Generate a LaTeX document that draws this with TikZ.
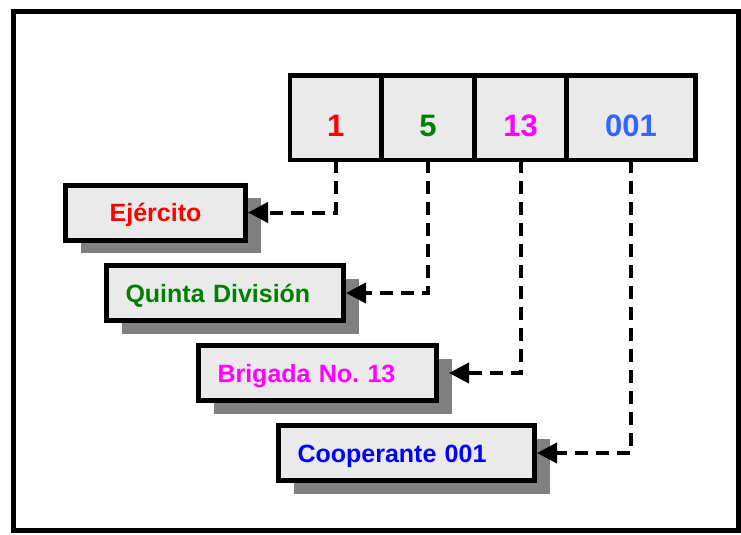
\documentclass[tikz,border=0pt]{standalone}
\usepackage{fontspec}
\setmainfont{Liberation Sans}
\usetikzlibrary{positioning,shadows,arrows.meta}
\definecolor{relleno}{HTML}{EAEAEA}
\definecolor{sombra}{HTML}{808080}
\definecolor{rojo}{HTML}{FF0000}
\definecolor{verde}{HTML}{008000}
\definecolor{rosa}{HTML}{FF00FF}
\definecolor{azulclaro}{HTML}{3366FF}
\definecolor{azul}{HTML}{0000FF}

\begin{document}
\begin{tikzpicture}[x=1pt, y=-1pt,
	celda/.style={draw, line width=4.5pt, fill=relleno, outer sep=0pt, minimum height=84.5pt,
		text height=37pt, text depth=0pt, font=\fontsize{31}{36}\selectfont\bfseries},
	caja/.style={draw, line width=5pt, fill=relleno, minimum height=55pt, inner xsep=19pt,
		align=left, text height=18pt, text depth=0pt, font=\fontsize{25}{30}\selectfont\bfseries,
		drop shadow={shadow xshift=15pt, shadow yshift=-13pt, fill=sombra, opacity=1}},
	conector/.style={line width=4pt, dash pattern=on 13pt off 8pt, -{Triangle[length=20pt, width=20pt]}}]
		%%%%% START %%%%%
		\useasboundingbox (0,0) rectangle (741,535);
		
		\draw[line width=5pt] (13.5,11.5) rectangle (738.5,530.5);
		
		% codigo
		\node[celda, minimum width=91.5pt, text=rojo] (uno) at (335.75,117.75) {1};
		\node[celda, minimum width=93pt, text=verde, right=0pt of uno] (cinco) {5};
		\node[celda, minimum width=92pt, text=rosa, right=0pt of cinco] (trece) {13};
		\node[celda, minimum width=129pt, text=azulclaro, right=0pt of trece] (cero) {001};
		
		% significado
		\node[caja, minimum width=180pt, text=rojo] (ejercito) at (155.5,212.5) {Ejército};
		\node[caja, text width=199pt, text=verde] (division) at (225,293) {Quinta División};
		\node[caja, text width=200pt, text=rosa] (brigada) at (317.5,373) {Brigada No.\ 13};
		\node[caja, text width=218pt, text=azul] (cooperante) at (406.5,453) {Cooperante 001};
		
		\draw[conector] (uno.south) |- (ejercito.east);
		\draw[conector] (cinco.south) |- (division.east);
		\draw[conector] (trece.south) |- ([xshift=10pt]brigada.east);
		\draw[conector] (cero.south) |- (cooperante.east);
		
		%%%%% END %%%%%
\end{tikzpicture}
\end{document}
